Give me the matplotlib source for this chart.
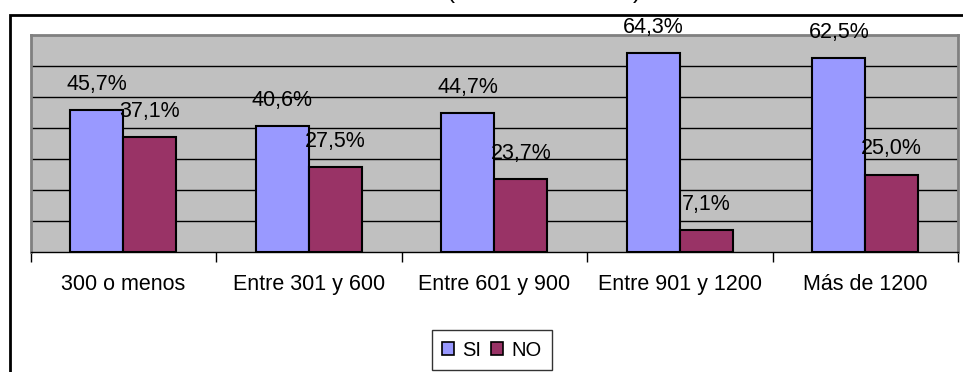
import matplotlib
matplotlib.use("Agg")
import matplotlib.pyplot as plt
from matplotlib.patches import Patch, Rectangle
import numpy as np

categories = ["300 o menos", "Entre 301 y 600", "Entre 601 y 900", "Entre 901 y 1200", "Más de 1200"]
si_values = [45.7, 40.6, 44.7, 64.3, 62.5]
no_values = [37.1, 27.5, 23.7, 7.1, 25.0]
series_names = ["SI", "NO"]

plt.rcParams["font.family"] = ["Liberation Sans", "DejaVu Sans"]

W, H = 963, 372
fig = plt.figure(figsize=(W / 100, H / 100), dpi=100)
fig.patch.set_facecolor("white")

# outer chart frame (extends past the right/bottom edges)
fig.patches.append(Rectangle((10 / W, -0.5), 2.0, (H - 15) / H + 0.5,
                             transform=fig.transFigure, fill=False,
                             edgecolor="black", linewidth=2, zorder=0))

# chart title, mostly above the visible area
fig.text(544 / W, 1 + 1.8 / H, "(En nuevos soles)", ha="center", va="baseline",
         fontsize=17.5, color="black")

ax = fig.add_axes([30.7 / W, 1 - 252 / H, (958 - 30.7) / W, (252 - 35) / H])
ax.set_facecolor("#C0C0C0")

x = np.arange(len(categories))
w = 1 / 3.5
b1 = ax.bar(x - w / 2, si_values, w, color="#9999FF", edgecolor="black", linewidth=1.5, zorder=3)
b2 = ax.bar(x + w / 2, no_values, w, color="#993366", edgecolor="black", linewidth=1.5, zorder=3)

def fmt(v):
    return f"{v:.1f}".replace(".", ",") + "%"

for bars, vals in ((b1, si_values), (b2, no_values)):
    for rect, v in zip(bars, vals):
        ax.annotate(fmt(v), (rect.get_x() + rect.get_width() / 2, v),
                    xytext=(0, 14.4), textcoords="offset points",
                    ha="center", va="baseline", fontsize=15.5,
                    color="black", zorder=5, annotation_clip=False)

ax.set_xlim(-0.5, len(categories) - 0.5)
ax.set_ylim(0, 70)
ax.set_yticks(np.arange(10, 70, 10))
ax.yaxis.grid(True, color="black", linewidth=1)
ax.set_axisbelow(True)
ax.tick_params(axis="y", left=False, labelleft=False)

ax.set_xticks(x)
ax.set_xticklabels(categories, fontsize=15.5)
ax.tick_params(axis="x", which="major", length=0, pad=16)
ax.set_xticks(np.arange(-0.5, len(categories), 1.0), minor=True)
ax.tick_params(axis="x", which="minor", length=7, width=1, color="black", direction="out")

for side in ("top", "left", "right"):
    ax.spines[side].set_color("#808080")
    ax.spines[side].set_linewidth(2)
ax.spines["bottom"].set_color("black")
ax.spines["bottom"].set_linewidth(1)

handles = [Patch(facecolor="#9999FF", edgecolor="black", linewidth=1.2),
           Patch(facecolor="#993366", edgecolor="black", linewidth=1.2)]
leg = fig.legend(handles, series_names, ncol=2, loc="center",
                 bbox_to_anchor=(492 / W, 1 - 350 / H), fontsize=14.5,
                 frameon=True, fancybox=False, edgecolor="black",
                 handlelength=0.6, handleheight=0.6, handletextpad=0.4,
                 columnspacing=0.5, borderpad=0.5, borderaxespad=0)
leg.get_frame().set_linewidth(1)

fig.savefig("out.png", dpi=100, facecolor="white")
